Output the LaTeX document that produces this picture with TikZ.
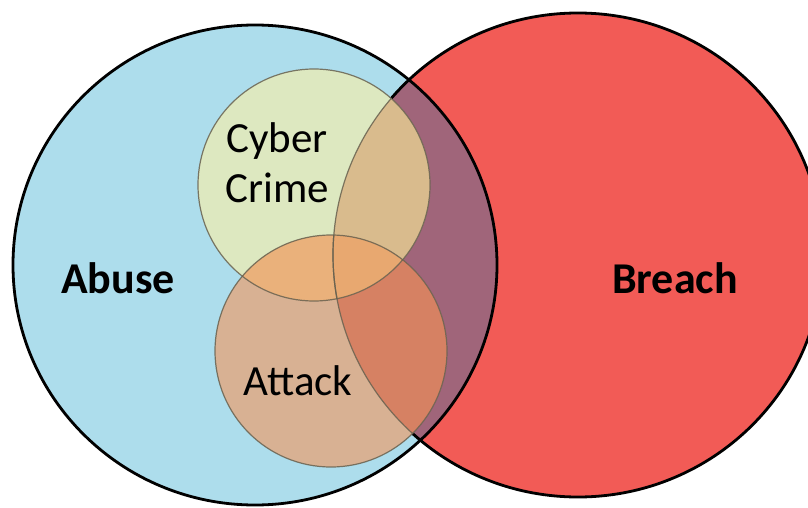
\documentclass[tikz,border=0pt]{standalone}
\usepackage{fontspec}
\setmainfont{Carlito}

\definecolor{abusefill}{RGB}{173,221,236}
\definecolor{breachfill}{RGB}{242,91,86}
\definecolor{abusebreach}{RGB}{160,101,122}
\definecolor{cyberfill}{RGB}{221,232,192}
\definecolor{cyberbreach}{RGB}{217,187,141}
\definecolor{attackfill}{RGB}{216,177,147}
\definecolor{attackbreach}{RGB}{214,129,99}
\definecolor{cyberattack}{RGB}{234,177,123}
\definecolor{allthree}{RGB}{232,168,112}
\definecolor{thinedge}{RGB}{105,98,80}

% the four sets of the diagram
\def\abusearea{(255,265) ellipse [x radius=242, y radius=240]}
\def\breacharea{(578,255) ellipse [x radius=245, y radius=242]}
\def\cyberarea{(314,185) circle [radius=116]}
\def\attackarea{(331,351) circle [radius=116]}

\begin{document}
\begin{tikzpicture}[x=1pt,y=-1pt,
  bigedge/.style={draw=black, line width=2.8pt},
  smalledge/.style={draw=thinedge, line width=1.2pt, opacity=0.85},
  setlabel/.style={anchor=base, inner sep=0pt, text=black,
                   font=\fontsize{43}{50}\selectfont},
  mainlabel/.style={setlabel, font=\fontsize{44}{50}\selectfont\bfseries}]
\useasboundingbox (0,0) rectangle (808,508);
\fill[white] (0,0) rectangle (808,508);

% large sets
\fill[abusefill] \abusearea;
\fill[breachfill] \breacharea;
\begin{scope}
  \clip \abusearea;
  \fill[abusebreach] \breacharea;
\end{scope}
\path[bigedge] \abusearea;
\path[bigedge] \breacharea;

% Cyber Crime
\fill[cyberfill] \cyberarea;
\begin{scope}
  \clip \cyberarea;
  \fill[cyberbreach] \breacharea;
\end{scope}

% Attack
\fill[attackfill] \attackarea;
\begin{scope}
  \clip \attackarea;
  \fill[attackbreach] \breacharea;
  \fill[cyberattack] \cyberarea;
  \clip \breacharea;
  \fill[allthree] \cyberarea;
\end{scope}

% edge of Breach seen through the small sets
\begin{scope}
  \clip \cyberarea;
  \path[smalledge] \breacharea;
\end{scope}
\begin{scope}
  \clip \attackarea;
  \path[smalledge] \breacharea;
\end{scope}
\path[smalledge] \cyberarea;
\path[smalledge] \attackarea;

% labels
\node[mainlabel] (abuse) at (118,293) {Abuse};
\node[mainlabel] (breach) at (675,293) {Breach};
\node[setlabel] (cyber) at (277,152) {Cyber};
\node[setlabel] (crime) at (277,202) {Crime};
\node[setlabel] (attack) at (298,395) {Attack};
\end{tikzpicture}
\end{document}
